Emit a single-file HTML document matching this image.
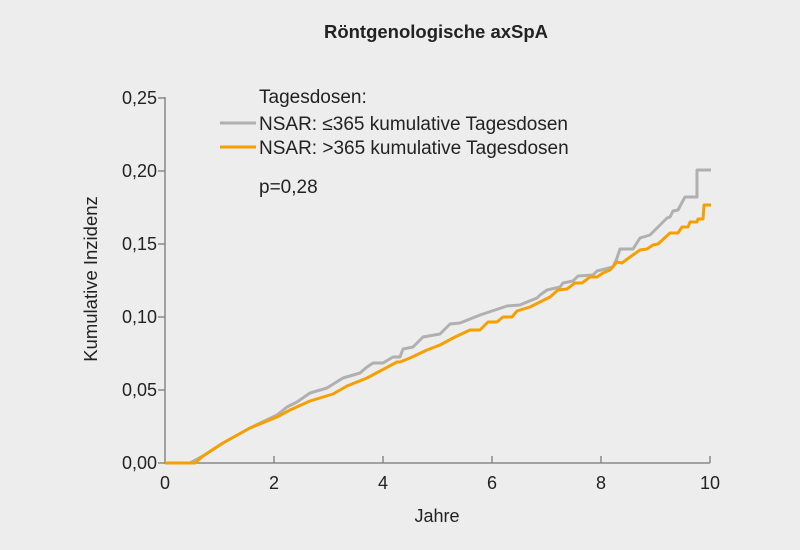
<!DOCTYPE html>
<html><head><style>
body{margin:0;background:#ededed;}
svg{display:block;font-family:"Liberation Sans",sans-serif;}
</style></head><body>
<svg width="800" height="550" viewBox="0 0 800 550">
<rect width="800" height="550" fill="#ededed"/>
<text x="436" y="38" text-anchor="middle" font-size="18.5" font-weight="bold" fill="#222">Röntgenologische axSpA</text>
<g stroke="#888" stroke-width="1.5" fill="none">
<line x1="165" y1="97" x2="165" y2="464"/>
<line x1="164" y1="463" x2="710" y2="463"/>
<line x1="158" y1="98" x2="165" y2="98"/>
<line x1="158" y1="171" x2="165" y2="171"/>
<line x1="158" y1="244" x2="165" y2="244"/>
<line x1="158" y1="317" x2="165" y2="317"/>
<line x1="158" y1="390" x2="165" y2="390"/>
<line x1="158" y1="463" x2="165" y2="463"/>
<line x1="274" y1="463" x2="274" y2="456"/>
<line x1="383" y1="463" x2="383" y2="456"/>
<line x1="492" y1="463" x2="492" y2="456"/>
<line x1="601" y1="463" x2="601" y2="456"/>
<line x1="710" y1="463" x2="710" y2="456"/>
</g>
<g font-size="18" fill="#222" text-anchor="end">
<text x="157" y="104">0,25</text>
<text x="157" y="177">0,20</text>
<text x="157" y="250">0,15</text>
<text x="157" y="323">0,10</text>
<text x="157" y="396">0,05</text>
<text x="157" y="469">0,00</text>
</g>
<g font-size="18" fill="#222" text-anchor="middle">
<text x="165" y="489">0</text>
<text x="274" y="489">2</text>
<text x="383" y="489">4</text>
<text x="492" y="489">6</text>
<text x="601" y="489">8</text>
<text x="710" y="489">10</text>
<text x="437" y="522">Jahre</text>
</g>
<text transform="translate(97,279) rotate(-90)" font-size="18.5" fill="#222" text-anchor="middle">Kumulative Inzidenz</text>
<g font-size="19" fill="#222">
<text x="259" y="103">Tagesdosen:</text>
<text x="259" y="130">NSAR: ≤365 kumulative Tagesdosen</text>
<text x="259" y="154">NSAR: &gt;365 kumulative Tagesdosen</text>
<text x="259" y="193">p=0,28</text>
</g>
<line x1="220" y1="123" x2="256" y2="123" stroke="#b0b0b0" stroke-width="3"/>
<line x1="220" y1="147" x2="256" y2="147" stroke="#f5a000" stroke-width="3"/>
<polyline fill="none" stroke="#b0b0b0" stroke-width="3" stroke-linejoin="round" points="165,463 190,463 203,456 223,443 250,428 277,415 287,407 297,402 310,393 327,388 343,378 360,373 367,367 373,363 383,363 393,357 400,357 403,349 413,347 423,337 440,334 450,324 460,323 480,315 507,306 520,305 527,302 537,298 540,295 547,290 560,287 563,283 573,281 578,276 593,275 597,271 613,267 617,258 620,249 633,249 640,238 650,235 657,228 667,218 670,217 673,211 678,210 685,197 697,197 697,170 711,170"/>
<polyline fill="none" stroke="#f5a000" stroke-width="3" stroke-linejoin="round" points="165,463 195,463 203,456 223,443 250,428 277,417 290,410 310,401 333,394 347,386 367,378 397,362 400,362 410,358 427,350 440,345 455,337 470,330 480,330 488,322 497,322 503,317 512,317 517,311 530,307 550,297 558,290 567,289 575,283 582,283 590,277 597,277 603,273 610,270 617,262 622,263 630,257 640,250 647,249 653,245 658,244 670,233 678,233 682,227 688,227 690,222 697,222 698,219 703,219 704,205 711,205"/>
</svg>
</body></html>
